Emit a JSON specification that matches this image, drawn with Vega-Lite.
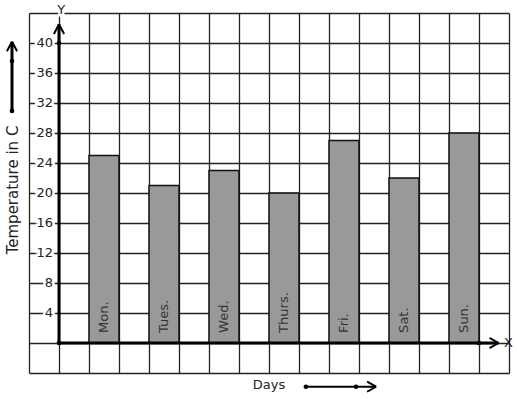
{
  "$schema": "https://vega.github.io/schema/vega-lite/v6.json",
  "width": 480,
  "height": 360,
  "autosize": {"type": "none"},
  "padding": {"left": 29, "top": 13, "right": 8, "bottom": 26},
  "config": {"view": {"stroke": null}, "font": "DejaVu Sans"},
  "datasets": {
    "temps": [
      {"day": "Mon.", "temp": 25, "start": 1, "end": 2, "mid": 1.5},
      {"day": "Tues.", "temp": 21, "start": 3, "end": 4, "mid": 3.5},
      {"day": "Wed.", "temp": 23, "start": 5, "end": 6, "mid": 5.5},
      {"day": "Thurs.", "temp": 20, "start": 7, "end": 8, "mid": 7.5},
      {"day": "Fri.", "temp": 27, "start": 9, "end": 10, "mid": 9.5},
      {"day": "Sat.", "temp": 22, "start": 11, "end": 12, "mid": 11.5},
      {"day": "Sun.", "temp": 28, "start": 13, "end": 14, "mid": 13.5}
    ],
    "ticks": [
      {"v": 4}, {"v": 8}, {"v": 12}, {"v": 16}, {"v": 20},
      {"v": 24}, {"v": 28}, {"v": 32}, {"v": 36}, {"v": 40}
    ],
    "thick": [
      {"x": 0, "y": 0, "x2": 0, "y2": 42.5},
      {"x": 0, "y": 0, "x2": 14.65, "y2": 0},
      {"x": -1.567, "y": 30.93, "x2": -1.567, "y2": 40.17}
    ],
    "thin": [
      {"x": 8.23, "y": -5.83, "x2": 10.57, "y2": -5.83},
      {"x": -0.17, "y": 41.2, "x2": 0, "y2": 42.5},
      {"x": 0.17, "y": 41.2, "x2": 0, "y2": 42.5},
      {"x": 14.35, "y": 0.67, "x2": 14.65, "y2": 0},
      {"x": 14.35, "y": -0.67, "x2": 14.65, "y2": 0},
      {"x": -1.737, "y": 38.9, "x2": -1.567, "y2": 40.17},
      {"x": -1.397, "y": 38.9, "x2": -1.567, "y2": 40.17},
      {"x": 10.27, "y": -5.16, "x2": 10.57, "y2": -5.83},
      {"x": 10.27, "y": -6.5, "x2": 10.57, "y2": -5.83}
    ],
    "dots": [
      {"x": 0, "y": 0}, {"x": 0, "y": 40}, {"x": 14, "y": 0},
      {"x": -1.567, "y": 30.93}, {"x": -1.567, "y": 37.6},
      {"x": 8.23, "y": -5.83}, {"x": 9.9, "y": -5.83}
    ],
    "labels": [
      {"t": "Y", "x": 0.07, "y": 44.4},
      {"t": "X", "x": 14.98, "y": 0.05},
      {"t": "Days", "x": 7.0, "y": -5.65}
    ],
    "ytitle": [
      {"t": "Temperature in C", "x": -1.53, "y": 20.4}
    ]
  },
  "layer": [
    {
      "data": {"name": "temps"},
      "mark": {"type": "bar", "fill": "#999999", "stroke": "#111111", "strokeWidth": 1.5},
      "encoding": {
        "x": {
          "field": "start", "type": "quantitative",
          "scale": {"domain": [-1, 15], "nice": false, "zero": false},
          "axis": {
            "values": [-1,0,1,2,3,4,5,6,7,8,9,10,11,12,13,14,15],
            "tickCount": 100,
            "grid": true, "gridColor": "#222222", "gridWidth": 1.3, "gridOpacity": 1,
            "labels": false, "ticks": false, "domain": false, "title": null
          }
        },
        "x2": {"field": "end"},
        "y": {
          "field": "temp", "type": "quantitative",
          "scale": {"domain": [-4, 44], "nice": false, "zero": false},
          "axis": {
            "values": [-4,0,4,8,12,16,20,24,28,32,36,40,44],
            "tickCount": 100,
            "grid": true, "gridColor": "#222222", "gridWidth": 1.3, "gridOpacity": 1,
            "labels": false, "ticks": false, "domain": false, "title": null
          }
        },
        "y2": {"datum": 0}
      }
    },
    {
      "data": {"name": "thick"},
      "mark": {"type": "rule", "color": "#000000", "strokeWidth": 3},
      "encoding": {
        "x": {"field": "x", "type": "quantitative"},
        "y": {"field": "y", "type": "quantitative"},
        "x2": {"field": "x2"},
        "y2": {"field": "y2"}
      }
    },
    {
      "data": {"name": "thin"},
      "mark": {"type": "rule", "color": "#000000", "strokeWidth": 2},
      "encoding": {
        "x": {"field": "x", "type": "quantitative"},
        "y": {"field": "y", "type": "quantitative"},
        "x2": {"field": "x2"},
        "y2": {"field": "y2"}
      }
    },
    {
      "data": {"name": "dots"},
      "mark": {"type": "point", "filled": true, "color": "#000000", "opacity": 1, "size": 22},
      "encoding": {
        "x": {"field": "x", "type": "quantitative"},
        "y": {"field": "y", "type": "quantitative"}
      }
    },
    {
      "data": {"name": "ticks"},
      "mark": {"type": "text", "align": "right", "baseline": "middle", "fontSize": 13, "stroke": "#ffffff", "strokeWidth": 5, "fill": "#ffffff"},
      "encoding": {
        "x": {"datum": -0.2},
        "y": {"field": "v", "type": "quantitative"},
        "text": {"field": "v", "type": "quantitative"}
      }
    },
    {
      "data": {"name": "ticks"},
      "mark": {"type": "text", "align": "right", "baseline": "middle", "fontSize": 13, "fill": "#222222"},
      "encoding": {
        "x": {"datum": -0.2},
        "y": {"field": "v", "type": "quantitative"},
        "text": {"field": "v", "type": "quantitative"}
      }
    },
    {
      "data": {"name": "labels"},
      "mark": {"type": "text", "align": "center", "baseline": "middle", "fontSize": 13, "stroke": "#ffffff", "strokeWidth": 5, "fill": "#ffffff"},
      "transform": [{"filter": "datum.t == 'Y'"}],
      "encoding": {
        "x": {"field": "x", "type": "quantitative"},
        "y": {"field": "y", "type": "quantitative"},
        "text": {"field": "t"}
      }
    },
    {
      "data": {"name": "labels"},
      "mark": {"type": "text", "align": "center", "baseline": "middle", "fontSize": 13, "fill": "#222222"},
      "encoding": {
        "x": {"field": "x", "type": "quantitative"},
        "y": {"field": "y", "type": "quantitative"},
        "text": {"field": "t"}
      }
    },
    {
      "data": {"name": "ytitle"},
      "mark": {"type": "text", "align": "center", "baseline": "middle", "fontSize": 15, "angle": 270, "fill": "#222222"},
      "encoding": {
        "x": {"field": "x", "type": "quantitative"},
        "y": {"field": "y", "type": "quantitative"},
        "text": {"field": "t"}
      }
    },
    {
      "data": {"name": "temps"},
      "mark": {"type": "text", "align": "left", "baseline": "middle", "fontSize": 13, "angle": 270, "fill": "#333333"},
      "encoding": {
        "x": {"field": "mid", "type": "quantitative"},
        "y": {"datum": 1.35},
        "text": {"field": "day"}
      }
    }
  ]
}
